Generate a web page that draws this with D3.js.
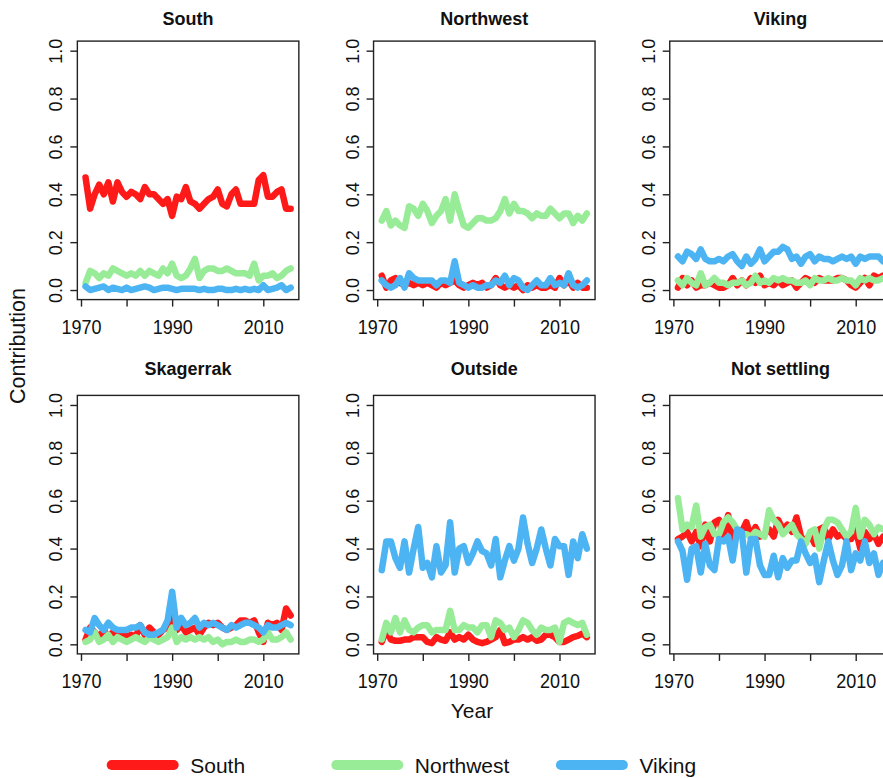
<!DOCTYPE html>
<html>
<head>
<meta charset="utf-8">
<script src="https://cdn.jsdelivr.net/npm/d3@7"></script>
<style>
  body { margin: 0; background: #fff; }
  svg { display: block; font-family: "Liberation Sans", Arial, sans-serif; }
</style>
</head>
<body>
<svg id="chart" width="883" height="778"></svg>
<script>
// years 1971-2016
var years = d3.range(1971, 2017);

var panelNames = ["South", "Northwest", "Viking", "Skagerrak", "Outside", "Not settling"];
var seriesNames = ["South", "Northwest", "Viking"];
var seriesColors = ["#ff1a1a", "#98ec98", "#4cb4f2"];

var yTicks = [0, 0.2, 0.4, 0.6, 0.8, 1.0];
var xTicks = [1970, 1980, 1990, 2000, 2010];

// contributions into each area, by source (South / Northwest / Viking)
var south_S  = [0.47,0.34,0.40,0.44,0.40,0.45,0.37,0.45,0.41,0.39,0.41,0.40,0.38,0.43,0.40,0.40,0.38,0.36,0.38,0.31,0.39,0.38,0.43,0.37,0.36,0.34,0.36,0.38,0.39,0.42,0.36,0.35,0.40,0.42,0.36,0.36,0.36,0.36,0.46,0.48,0.39,0.39,0.41,0.42,0.34,0.34];
var south_NW = [0.03,0.08,0.07,0.05,0.07,0.06,0.09,0.08,0.07,0.06,0.07,0.06,0.08,0.06,0.08,0.07,0.06,0.09,0.07,0.11,0.06,0.05,0.06,0.09,0.13,0.05,0.08,0.09,0.09,0.08,0.08,0.09,0.08,0.07,0.07,0.07,0.06,0.11,0.04,0.06,0.06,0.07,0.05,0.06,0.08,0.09];
var south_V  = [0.015,0.0,0.005,0.01,0.015,0.0,0.01,0.005,0.0,0.01,0.0,0.005,0.01,0.015,0.01,0.0,0.005,0.01,0.01,0.005,0.0,0.005,0.005,0.005,0.005,0.0,0.005,0.0,0.0,0.005,0.005,0.0,0.0,0.005,0.0,0.005,0.0,0.005,0.0,0.02,0.0,0.005,0.01,0.02,0.0,0.01];

var northwest_S  = [0.06,0.01,0.04,0.05,0.03,0.02,0.03,0.02,0.03,0.02,0.03,0.02,0.01,0.03,0.02,0.03,0.04,0.02,0.01,0.02,0.03,0.02,0.03,0.01,0.02,0.05,0.02,0.01,0.02,0.01,0.02,0.00,0.02,0.01,0.02,0.01,0.01,0.02,0.01,0.05,0.02,0.04,0.01,0.03,0.01,0.01];
var northwest_NW = [0.29,0.33,0.27,0.29,0.27,0.26,0.35,0.34,0.31,0.36,0.33,0.28,0.31,0.33,0.38,0.29,0.40,0.33,0.27,0.26,0.28,0.30,0.30,0.29,0.29,0.30,0.33,0.38,0.32,0.36,0.33,0.33,0.32,0.30,0.32,0.31,0.31,0.34,0.32,0.30,0.32,0.32,0.28,0.31,0.29,0.32];
var northwest_V  = [0.04,0.02,0.01,0.02,0.05,0.01,0.07,0.05,0.04,0.04,0.04,0.04,0.02,0.04,0.04,0.03,0.12,0.03,0.02,0.01,0.02,0.01,0.01,0.02,0.02,0.04,0.03,0.06,0.02,0.05,0.04,0.01,0.00,0.02,0.04,0.02,0.02,0.05,0.02,0.03,0.02,0.07,0.02,0.01,0.02,0.04];

var viking_S  = [0.01,0.05,0.02,0.04,0.01,0.02,0.02,0.03,0.02,0.01,0.01,0.02,0.05,0.02,0.04,0.02,0.05,0.03,0.06,0.02,0.03,0.02,0.04,0.02,0.03,0.04,0.01,0.03,0.05,0.04,0.03,0.05,0.04,0.04,0.04,0.05,0.05,0.04,0.02,0.01,0.03,0.05,0.02,0.06,0.05,0.06];
var viking_NW = [0.04,0.02,0.05,0.03,0.02,0.07,0.02,0.03,0.05,0.03,0.03,0.02,0.03,0.03,0.04,0.02,0.03,0.06,0.03,0.04,0.03,0.05,0.04,0.05,0.04,0.04,0.03,0.03,0.04,0.02,0.05,0.04,0.04,0.05,0.04,0.04,0.05,0.04,0.04,0.02,0.05,0.04,0.05,0.04,0.04,0.05];
var viking_V  = [0.14,0.12,0.16,0.15,0.13,0.17,0.13,0.12,0.12,0.13,0.12,0.14,0.15,0.12,0.10,0.14,0.11,0.13,0.17,0.12,0.14,0.16,0.16,0.18,0.17,0.13,0.14,0.11,0.14,0.15,0.12,0.14,0.13,0.13,0.12,0.13,0.14,0.13,0.14,0.11,0.14,0.13,0.14,0.14,0.14,0.12];

var skagerrak_S  = [0.02,0.07,0.05,0.03,0.06,0.03,0.05,0.04,0.05,0.03,0.04,0.03,0.08,0.04,0.07,0.05,0.04,0.06,0.07,0.14,0.06,0.08,0.05,0.06,0.07,0.04,0.07,0.09,0.08,0.09,0.07,0.06,0.07,0.08,0.10,0.10,0.09,0.10,0.05,0.01,0.09,0.08,0.09,0.06,0.15,0.12];
var skagerrak_NW = [0.01,0.02,0.05,0.01,0.02,0.04,0.01,0.03,0.02,0.01,0.02,0.03,0.02,0.01,0.03,0.02,0.01,0.02,0.03,0.07,0.01,0.03,0.02,0.03,0.02,0.03,0.02,0.03,0.01,0.02,0.00,0.01,0.01,0.02,0.01,0.01,0.02,0.02,0.01,0.02,0.05,0.02,0.02,0.03,0.05,0.02];
var skagerrak_V  = [0.06,0.05,0.11,0.08,0.06,0.09,0.07,0.06,0.06,0.06,0.07,0.07,0.08,0.05,0.04,0.04,0.05,0.06,0.10,0.22,0.07,0.11,0.08,0.09,0.11,0.07,0.09,0.08,0.09,0.08,0.07,0.06,0.08,0.07,0.08,0.09,0.09,0.08,0.07,0.05,0.08,0.07,0.07,0.08,0.09,0.08];

var outside_S  = [0.01,0.06,0.02,0.015,0.015,0.02,0.02,0.03,0.03,0.03,0.01,0.005,0.03,0.02,0.015,0.05,0.02,0.03,0.02,0.04,0.02,0.01,0.005,0.01,0.02,0.03,0.06,0.005,0.01,0.02,0.02,0.03,0.02,0.03,0.015,0.02,0.04,0.04,0.03,0.01,0.01,0.02,0.03,0.035,0.045,0.03];
var outside_NW = [0.02,0.09,0.05,0.11,0.05,0.10,0.06,0.05,0.07,0.08,0.08,0.05,0.06,0.06,0.06,0.14,0.06,0.06,0.08,0.07,0.07,0.05,0.08,0.08,0.03,0.10,0.09,0.06,0.07,0.03,0.06,0.10,0.09,0.06,0.04,0.07,0.06,0.06,0.07,0.01,0.09,0.10,0.09,0.08,0.09,0.04];
var outside_V  = [0.31,0.43,0.43,0.36,0.32,0.43,0.30,0.40,0.49,0.32,0.34,0.28,0.41,0.30,0.33,0.51,0.30,0.40,0.41,0.34,0.38,0.43,0.39,0.38,0.33,0.44,0.28,0.35,0.41,0.35,0.40,0.53,0.42,0.34,0.40,0.48,0.40,0.33,0.44,0.41,0.41,0.29,0.43,0.36,0.46,0.40];

var notsettling_S  = [0.44,0.45,0.47,0.43,0.47,0.41,0.50,0.43,0.51,0.52,0.45,0.54,0.44,0.48,0.47,0.51,0.45,0.49,0.45,0.46,0.48,0.45,0.52,0.48,0.50,0.47,0.53,0.45,0.43,0.46,0.42,0.48,0.49,0.44,0.48,0.45,0.46,0.44,0.44,0.48,0.40,0.47,0.44,0.46,0.42,0.45];
var notsettling_NW = [0.61,0.48,0.50,0.49,0.58,0.45,0.49,0.50,0.46,0.46,0.51,0.53,0.51,0.48,0.46,0.46,0.45,0.47,0.46,0.45,0.56,0.52,0.50,0.46,0.48,0.50,0.46,0.44,0.42,0.47,0.48,0.40,0.48,0.52,0.52,0.51,0.48,0.45,0.47,0.57,0.45,0.52,0.50,0.46,0.49,0.48];
var notsettling_V  = [0.43,0.39,0.27,0.40,0.41,0.30,0.42,0.33,0.31,0.44,0.43,0.45,0.35,0.48,0.47,0.30,0.44,0.44,0.33,0.29,0.29,0.37,0.28,0.36,0.32,0.35,0.35,0.43,0.38,0.34,0.37,0.26,0.35,0.43,0.35,0.29,0.33,0.43,0.31,0.38,0.35,0.43,0.34,0.38,0.29,0.34];

var panelData = [
  [south_S, south_NW, south_V],
  [northwest_S, northwest_NW, northwest_V],
  [viking_S, viking_NW, viking_V],
  [skagerrak_S, skagerrak_NW, skagerrak_V],
  [outside_S, outside_NW, outside_V],
  [notsettling_S, notsettling_NW, notsettling_V]
];

var svg = d3.select("#chart");
svg.append("rect").attr("width", 883).attr("height", 778).attr("fill", "#fff");

var colStep = 296.2, rowStep = 354.3;
var boxW = 221.5;
var pad = 0.04 * (2016 - 1971);

panelNames.forEach(function(name, i) {
  var col = i % 3, row = Math.floor(i / 3);
  var left = 77.35 + col * colStep;
  var x = d3.scaleLinear().domain([1971 - pad, 2016 + pad]).range([left, left + boxW]);
  var y = d3.scaleLinear().domain([-0.04, 1.04]).range([299.6 + row * rowStep, 41.1 + row * rowStep]);

  var g = svg.append("g").attr("class", "panel");

  var line = d3.line()
    .x(function(d, k) { return x(years[k]); })
    .y(function(d) { return y(d); });

  // red, green, then blue on top
  panelData[i].forEach(function(vals, s) {
    g.append("path")
      .attr("d", line(vals))
      .attr("fill", "none")
      .attr("stroke", seriesColors[s])
      .attr("stroke-width", 6.5)
      .attr("stroke-linejoin", "round")
      .attr("stroke-linecap", "round");
  });

  g.append("rect")
    .attr("x", x.range()[0]).attr("y", y.range()[1])
    .attr("width", boxW).attr("height", y.range()[0] - y.range()[1])
    .attr("fill", "none").attr("stroke", "#222").attr("stroke-width", 1.4);

  var yAxis = g.append("g")
    .attr("transform", "translate(" + x.range()[0] + ",0)")
    .call(d3.axisLeft(y).tickValues(yTicks).tickSize(7).tickSizeOuter(0).tickFormat(d3.format(".1f")));
  yAxis.select(".domain").remove();
  yAxis.selectAll("line").attr("stroke", "#222").attr("stroke-width", 1.4);
  yAxis.selectAll("text")
    .attr("transform", "translate(-15,0) rotate(-90)")
    .attr("x", 0).attr("y", 0).attr("dy", 0)
    .attr("text-anchor", "middle")
    .attr("fill", "#111")
    .style("font-size", "18px")
    .style("font-family", "Liberation Sans, Arial, sans-serif");

  var xAxis = g.append("g")
    .attr("transform", "translate(0," + y.range()[0] + ")")
    .call(d3.axisBottom(x).tickValues(xTicks).tickSize(7).tickSizeOuter(0)
      .tickFormat(function(d) { return (d - 1970) % 20 === 0 ? d : ""; }));
  xAxis.select(".domain").remove();
  xAxis.selectAll("line").attr("stroke", "#222").attr("stroke-width", 1.4);
  xAxis.selectAll("text")
    .attr("transform", "translate(0,34) scale(1,1.1)")
    .attr("y", 0).attr("dy", 0)
    .attr("fill", "#111")
    .style("font-size", "18px")
    .style("font-family", "Liberation Sans, Arial, sans-serif");

  g.append("text")
    .attr("x", left + boxW / 2)
    .attr("y", 25 + row * 350)
    .attr("text-anchor", "middle")
    .style("font-weight", "bold")
    .style("font-size", "18px")
    .attr("fill", "#111")
    .text(name);
});

svg.append("text")
  .attr("transform", "translate(25,346) rotate(-90)")
  .attr("text-anchor", "middle")
  .style("font-size", "21.5px")
  .attr("fill", "#111")
  .text("Contribution");

svg.append("text")
  .attr("x", 472).attr("y", 718)
  .attr("text-anchor", "middle")
  .style("font-size", "21px")
  .attr("fill", "#111")
  .text("Year");

// legend
var legend = svg.append("g").selectAll("g")
  .data(seriesNames)
  .enter().append("g")
  .attr("transform", function(d, i) { return "translate(" + (111.7 + i * 224.6) + ",765)"; });

legend.append("line")
  .attr("x1", 0).attr("x2", 62)
  .attr("stroke", function(d, i) { return seriesColors[i]; })
  .attr("stroke-width", 10)
  .attr("stroke-linecap", "round");

legend.append("text")
  .attr("x", 78.5).attr("y", 8)
  .style("font-size", "21px")
  .attr("fill", "#111")
  .text(function(d) { return d; });
</script>
</body>
</html>
